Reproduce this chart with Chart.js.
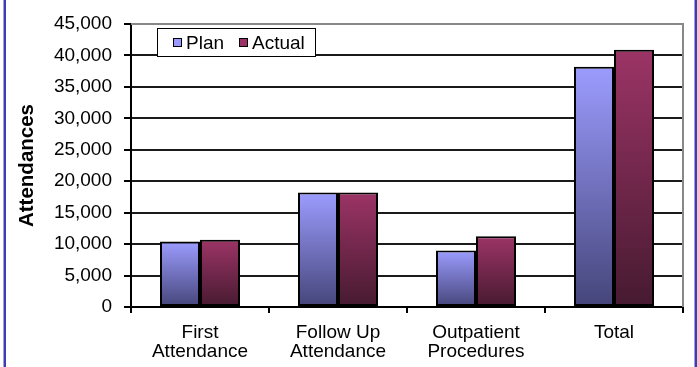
<!DOCTYPE html>
<html>
<head>
<meta charset="utf-8">
<script src="https://cdn.jsdelivr.net/npm/chart.js@4"></script>
<style>
    html, body { margin: 0; padding: 0; background: #fff; }
    #wrap { position: relative; width: 697px; height: 367px; }
    .edge { position: absolute; top: 0; width: 2px; height: 367px; background: #3c3cb8; box-shadow: -1px 0 0 #a0a0d8; }
</style>
</head>
<body>
<div id="wrap">
    <canvas id="attendanceChart" width="697" height="367"></canvas>
    <div class="edge" style="left:4px"></div>
    <div class="edge" style="left:695px"></div>
</div>
<script>
    // chart data
    let categories = [["First", "Attendance"], ["Follow Up", "Attendance"], ["Outpatient", "Procedures"], "Total"];
    let planValues = [10400, 18200, 9000, 38200];
    let actualValues = [10700, 18200, 11250, 40900];
    let seriesNames = ["Plan", "Actual"];

    let fontFamily = "'Liberation Sans', Arial, sans-serif";

    // per bar vertical gradient, light at the top
    function barGradient(context, topColor, bottomColor) {
        let chart = context.chart;
        if (!chart.chartArea) {
            return topColor;
        }
        let yScale = chart.scales.y;
        let yTop = yScale.getPixelForValue(context.raw);
        let yBottom = yScale.getPixelForValue(0);
        let gradient = chart.ctx.createLinearGradient(0, yTop, 0, yBottom);
        gradient.addColorStop(0, topColor);
        gradient.addColorStop(1, bottomColor);
        return gradient;
    }

    // legend box drawn inside the plot area
    let boxLegend = {
        id: "boxLegend",
        afterDatasetsDraw(chart) {
            let ctx = chart.ctx;
            let area = chart.chartArea;
            let x = area.left + 26;
            let y = area.top + 4;
            ctx.save();
            ctx.fillStyle = "#fff";
            ctx.strokeStyle = "#000";
            ctx.lineWidth = 1;
            ctx.fillRect(x, y, 159, 29);
            ctx.strokeRect(x + 0.5, y + 0.5, 158, 28);
            ctx.font = "19px " + fontFamily;
            ctx.textBaseline = "middle";
            let offsets = [16, 82];
            chart.data.datasets.forEach((ds, i) => {
                let sx = x + offsets[i];
                ctx.fillStyle = ds.legendColor;
                ctx.fillRect(sx, y + 10, 9, 9);
                ctx.strokeStyle = "#000";
                ctx.strokeRect(sx + 0.5, y + 10.5, 8, 8);
                ctx.fillStyle = "#000";
                ctx.fillText(ds.label, sx + 13, y + 15.5);
            });
            ctx.restore();
        }
    };

    // grey frame on the right of the plot area
    let plotFrame = {
        id: "plotFrame",
        beforeDatasetsDraw(chart) {
            let ctx = chart.ctx;
            let area = chart.chartArea;
            ctx.save();
            ctx.strokeStyle = "#888";
            ctx.lineWidth = 2;
            ctx.beginPath();
            ctx.moveTo(area.left, area.top);
            ctx.lineTo(area.right, area.top);
            ctx.lineTo(area.right, area.bottom);
            ctx.stroke();
            ctx.restore();
        }
    };

    new Chart(document.getElementById("attendanceChart"), {
        type: "bar",
        data: {
            labels: categories,
            datasets: [{
                label: seriesNames[0],
                data: planValues,
                legendColor: "#9999ff",
                backgroundColor: c => barGradient(c, "#9c9cff", "#45457a"),
                borderColor: "#000",
                borderWidth: 2,
                borderSkipped: false
            }, {
                label: seriesNames[1],
                data: actualValues,
                legendColor: "#993366",
                backgroundColor: c => barGradient(c, "#9c3466", "#461a30"),
                borderColor: "#000",
                borderWidth: 2,
                borderSkipped: false
            }]
        },
        options: {
            responsive: false,
            animation: false,
            layout: { padding: { left: 6, right: 14, top: 24, bottom: 0 } },
            datasets: {
                bar: { categoryPercentage: 0.58, barPercentage: 1 }
            },
            plugins: {
                legend: { display: false },
                tooltip: { enabled: false }
            },
            scales: {
                x: {
                    offset: true,
                    afterFit: s => { s.height = 60; },
                    grid: {
                        offset: true,
                        drawOnChartArea: false,
                        drawTicks: true,
                        tickLength: 6,
                        tickColor: "#000",
                        lineWidth: 2
                    },
                    border: { color: "#000", width: 2 },
                    ticks: {
                        color: "#000",
                        padding: 10,
                        maxRotation: 0,
                        font: { family: fontFamily, size: 19, lineHeight: 1.0 }
                    }
                },
                y: {
                    min: 0,
                    max: 45000,
                    afterFit: s => { s.width = 125; },
                    grid: {
                        color: c => c.tick && c.tick.value === 45000 ? "#888" : "#1a1a1a",
                        tickColor: "#000",
                        lineWidth: 2,
                        tickLength: 7
                    },
                    border: { color: "#000", width: 2 },
                    ticks: {
                        stepSize: 5000,
                        color: "#000",
                        padding: 12,
                        font: { family: fontFamily, size: 19 },
                        callback: v => v.toLocaleString("en-US")
                    },
                    title: {
                        display: true,
                        text: "Attendances",
                        color: "#000",
                        padding: { top: 9, bottom: 0 },
                        font: { family: fontFamily, size: 20.5, weight: "bold" }
                    }
                }
            }
        },
        plugins: [plotFrame, boxLegend]
    });
</script>
</body>
</html>
